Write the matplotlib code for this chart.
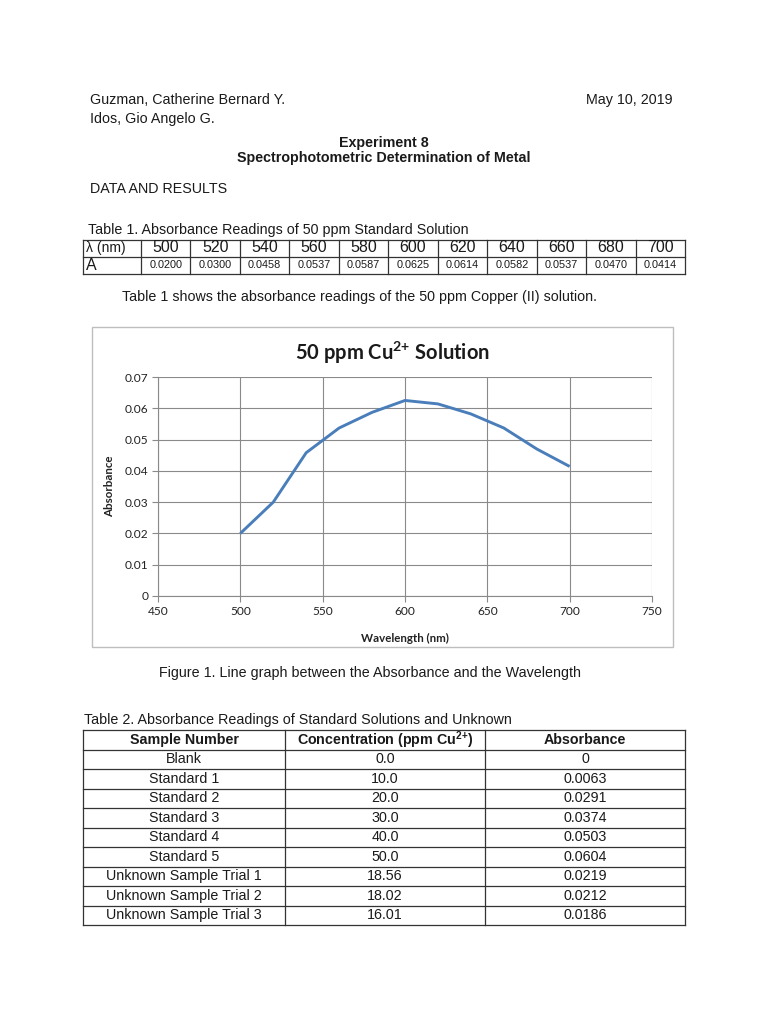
import matplotlib
matplotlib.use("Agg")
import matplotlib.pyplot as plt
from matplotlib.patches import Rectangle

plt.rcParams['mathtext.fontset'] = 'custom'
plt.rcParams['mathtext.bf'] = 'Liberation Sans:bold'
plt.rcParams['mathtext.sf'] = 'Lato:bold'
plt.rcParams['mathtext.rm'] = 'Liberation Sans'

# ---------------- data ----------------
wavelengths = [500, 520, 540, 560, 580, 600, 620, 640, 660, 680, 700]
absorbance_50ppm = [0.0200, 0.0300, 0.0458, 0.0537, 0.0587, 0.0625,
                    0.0614, 0.0582, 0.0537, 0.0470, 0.0414]

x_ticks = [450, 500, 550, 600, 650, 700, 750]
y_ticks = [0, 0.01, 0.02, 0.03, 0.04, 0.05, 0.06, 0.07]
y_tick_labels = ["0", "0.01", "0.02", "0.03", "0.04", "0.05", "0.06", "0.07"]

sample_names = ["Blank", "Standard 1", "Standard 2", "Standard 3", "Standard 4",
                "Standard 5", "Unknown Sample Trial 1", "Unknown Sample Trial 2",
                "Unknown Sample Trial 3"]
concentrations = ["0.0", "10.0", "20.0", "30.0", "40.0", "50.0",
                  "18.56", "18.02", "16.01"]
sample_absorbance = ["0", "0.0063", "0.0291", "0.0374", "0.0503", "0.0604",
                     "0.0219", "0.0212", "0.0186"]

# ---------------- figure ----------------
W, H = 768, 1024
fig = plt.figure(figsize=(W / 100, H / 100), dpi=100)
fig.patch.set_facecolor('white')

ov = fig.add_axes([0, 0, 1, 1], zorder=0)
ov.set_xlim(0, W)
ov.set_ylim(H, 0)
ov.axis('off')

DOC = 'Liberation Sans'
TXT = '#1a1a1a'
BODY = 10.3


def T(x, y, s, size=BODY, ha='left', weight='normal', family=DOC, **kw):
    ov.text(x, y, s, fontsize=size, ha=ha, va='center', fontweight=weight,
            family=family, color=TXT, **kw)


# header
T(90, 100, "Guzman, Catherine Bernard Y.")
T(90, 119, "Idos, Gio Angelo G.")
T(672, 100, "May 10, 2019", ha='right')
T(384, 143, "Experiment 8", ha='center', weight='bold')
T(384, 158, "Spectrophotometric Determination of Metal", ha='center', weight='bold')
T(90, 189, "DATA AND RESULTS")

# ---------------- Table 1 ----------------
T(88, 230, "Table 1. Absorbance Readings of 50 ppm Standard Solution")
lc = '#333333'
t1_left, t1_first, t1_right = 83, 141, 685
t1_rows = [239.5, 256.5, 273.5]
ncol = len(wavelengths)
cw = (t1_right - t1_first) / ncol
for yy in t1_rows:
    ov.plot([t1_left, t1_right], [yy, yy], color=lc, lw=0.9)
xs = [t1_left, t1_first] + [t1_first + cw * (i + 1) for i in range(ncol)]
for xx in xs:
    ov.plot([xx, xx], [t1_rows[0], t1_rows[-1]], color=lc, lw=0.9)
T(86, 248, "λ (nm)", size=10)
T(86, 265, "A", size=11.5)
for i, (wl, a) in enumerate(zip(wavelengths, absorbance_50ppm)):
    cx = t1_first + cw * (i + 0.5)
    T(cx, 248, f"{wl}", size=11.5, ha='center')
    T(cx, 265, f"{a:.4f}", size=7.8, ha='center')

T(122, 297, "Table 1 shows the absorbance readings of the 50 ppm Copper (II) solution.")

# ---------------- Chart ----------------
ov.add_patch(Rectangle((92, 327), 673 - 92, 647 - 327, fill=False,
                       edgecolor='#BEBEBE', lw=1.0))

ax_l, ax_r, ax_t, ax_b = 158, 652, 377, 596
ax = fig.add_axes([ax_l / W, 1 - ax_b / H, (ax_r - ax_l) / W, (ax_b - ax_t) / H],
                  zorder=1)
ax.set_facecolor('none')
ax.plot(wavelengths, absorbance_50ppm, color='#4A7EBB', lw=2.1,
        solid_joinstyle='round', solid_capstyle='butt', zorder=3)
ax.set_xlim(450, 750)
ax.set_ylim(0, 0.07)
ax.set_xticks(x_ticks)
ax.set_yticks(y_ticks)
ax.set_yticklabels(y_tick_labels)
gc = '#8A8A8A'
ax.grid(True, color=gc, lw=0.8, zorder=1)
ax.set_axisbelow(True)
for s in ['top', 'right']:
    ax.spines[s].set_visible(False)
for s in ['left', 'bottom']:
    ax.spines[s].set_color(gc)
    ax.spines[s].set_linewidth(0.8)
ax.tick_params(direction='out', length=4, width=0.8, color=gc,
               labelsize=8.6, labelcolor='#222222', pad=3)
for lab in ax.get_xticklabels() + ax.get_yticklabels():
    lab.set_family('Lato')
ax.set_xlabel("Wavelength (nm)", fontsize=8.3, fontweight='bold', family='Lato',
              color='#222222')
ax.set_ylabel("Absorbance", fontsize=8.3, fontweight='bold', family='Lato',
              color='#222222')
ax.xaxis.set_label_coords(0.5, -(633 - ax_b) / (ax_b - ax_t))
ax.yaxis.set_label_coords(-(ax_l - 115) / (ax_r - ax_l), 0.5)

T(392, 353, r"50 ppm Cu$^{\mathsf{2{+}}}$ Solution", size=14.5, ha='center',
  weight='bold', family='Lato')

T(370, 673, "Figure 1. Line graph between the Absorbance and the Wavelength",
  ha='center')

# ---------------- Table 2 ----------------
T(84, 720, "Table 2. Absorbance Readings of Standard Solutions and Unknown")
t2_x = [83, 285, 485, 685]
t2_top, t2_bot = 730, 925
nrows = len(sample_names) + 1
rh = (t2_bot - t2_top) / nrows
for r in range(nrows + 1):
    yy = t2_top + rh * r
    ov.plot([t2_x[0], t2_x[-1]], [yy, yy], color=lc, lw=0.9)
for xx in t2_x:
    ov.plot([xx, xx], [t2_top, t2_bot], color=lc, lw=0.9)
centers = [(t2_x[i] + t2_x[i + 1]) / 2 for i in range(3)]
hy = t2_top + rh * 0.5
T(centers[0], hy, "Sample Number", ha='center', weight='bold')
T(centers[1], hy, r"Concentration (ppm Cu$^{\mathbf{2{+}}}$)", ha='center', weight='bold')
T(centers[2], hy, "Absorbance", ha='center', weight='bold')
for i, (nm, c, a) in enumerate(zip(sample_names, concentrations, sample_absorbance)):
    yy = t2_top + rh * (i + 1.5)
    T(centers[0], yy, nm, ha='center')
    T(centers[1], yy, c, ha='center')
    T(centers[2], yy, a, ha='center')

fig.savefig("out.png", dpi=100, facecolor='white')
